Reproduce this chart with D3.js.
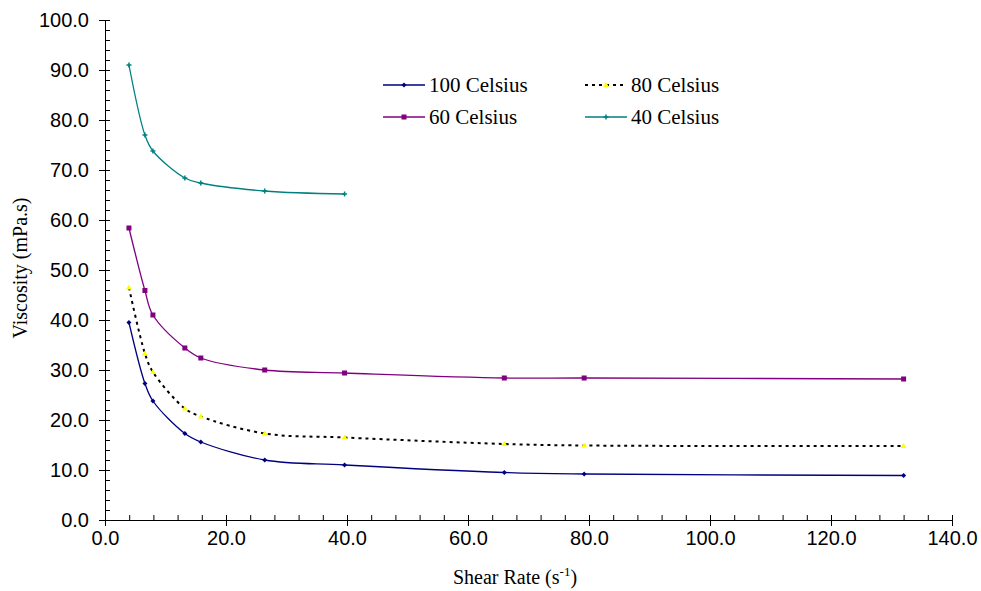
<!DOCTYPE html>
<html>
<head>
<meta charset="utf-8">
<script src="https://cdn.jsdelivr.net/npm/d3@7"></script>
<style>
  body { margin: 0; background: #fff; }
</style>
</head>
<body>
<svg width="981" height="591"></svg>
<script>
// shear rates (1/s)
const shearRate = [3.96, 6.6, 7.92, 13.2, 15.84, 26.4, 39.6, 66, 79.2, 132];

const visc100 = [39.5, 27.3, 23.8, 17.3, 15.6, 12.0, 11.0, 9.5, 9.2, 8.9];
const visc80 = [46.5, 33.3, 29.6, 22.3, 20.7, 17.3, 16.5, 15.2, 14.9, 14.8];
const visc60 = [58.4, 45.9, 41.0, 34.4, 32.4, 30.0, 29.4, 28.4, 28.4, 28.2];
const visc40 = [91.0, 77.0, 73.8, 68.4, 67.4, 65.8, 65.2];

const xTicks = [0, 20, 40, 60, 80, 100, 120, 140];
const yTicks = [0, 10, 20, 30, 40, 50, 60, 70, 80, 90, 100];

const series = [
  {name: '100 Celsius', values: visc100, color: '#000080', dash: null, marker: 'diamond'},
  {name: '80 Celsius', values: visc80, color: '#000000', dash: '3,4', marker: 'triangle'},
  {name: '60 Celsius', values: visc60, color: '#800080', dash: null, marker: 'square'},
  {name: '40 Celsius', values: visc40, color: '#008080', dash: null, marker: 'plus'}
];

const sans = '"Liberation Sans", Arial, sans-serif';
const serif = '"Liberation Serif", "Times New Roman", Times, serif';

var svg = d3.select('svg');

var x = d3.scaleLinear().domain([0, 140]).range([105, 952]);
var y = d3.scaleLinear().domain([0, 100]).range([520, 20]);

// minor ticks (inside)
svg.append('g')
  .attr('transform', 'translate(0,520)')
  .call(d3.axisTop(x).tickValues(d3.range(0, 141, 4)).tickSize(5).tickFormat(''))
  .call(g => g.select('.domain').remove());
svg.append('g')
  .attr('transform', 'translate(105,0)')
  .call(d3.axisRight(y).tickValues(d3.range(0, 101, 2)).tickSize(5).tickFormat(''))
  .call(g => g.select('.domain').remove());

// major axes
var xAxis = svg.append('g')
  .attr('transform', 'translate(0,520)')
  .call(d3.axisBottom(x).tickValues(xTicks).tickSize(6).tickSizeOuter(0).tickPadding(5).tickFormat(d3.format('.1f')));
var yAxis = svg.append('g')
  .attr('transform', 'translate(105,0)')
  .call(d3.axisLeft(y).tickValues(yTicks).tickSize(6).tickSizeOuter(0).tickPadding(10).tickFormat(d3.format('.1f')));

[xAxis, yAxis].forEach(a => a.selectAll('text')
  .attr('font-family', sans).attr('font-size', 20).attr('fill', '#000'));

svg.append('text')
  .attr('x', 515).attr('y', 584).attr('text-anchor', 'middle')
  .attr('font-family', serif).attr('font-size', 20)
  .html('Shear Rate (s<tspan dy="-8" font-size="13">-1</tspan><tspan dy="8">)</tspan>');

svg.append('text')
  .attr('transform', 'translate(27,268) rotate(-90)')
  .attr('text-anchor', 'middle')
  .attr('font-family', serif).attr('font-size', 20)
  .text('Viscosity (mPa.s)');

var line = d3.line()
  .x((d, i) => x(shearRate[i]))
  .y(d => y(d))
  .curve(d3.curveCatmullRom.alpha(0.5));

function drawMarker(g, type, cx, cy) {
  if (type === 'diamond') {
    g.append('path').attr('d', `M${cx},${cy - 2.5}L${cx + 2.5},${cy}L${cx},${cy + 2.5}L${cx - 2.5},${cy}Z`).attr('fill', '#000080');
  } else if (type === 'triangle') {
    g.append('path').attr('d', `M${cx},${cy - 3}L${cx + 3},${cy + 2}L${cx - 3},${cy + 2}Z`).attr('fill', '#ffff00');
  } else if (type === 'square') {
    g.append('rect').attr('x', cx - 2.5).attr('y', cy - 2.5).attr('width', 5).attr('height', 5).attr('fill', '#800080');
  } else {
    g.append('path').attr('d', `M${cx - 2.5},${cy}H${cx + 2.5}M${cx},${cy - 2.5}V${cy + 2.5}`).attr('stroke', '#008080').attr('stroke-width', 1.5);
  }
}

series.forEach(s => {
  var g = svg.append('g');
  g.append('path')
    .attr('d', line(s.values))
    .attr('fill', 'none')
    .attr('stroke', s.color)
    .attr('stroke-width', s.dash ? 2 : 1.3)
    .attr('stroke-dasharray', s.dash);
  s.values.forEach((v, i) => drawMarker(g, s.marker, x(shearRate[i]), y(v)));
});

// legend
var legendPos = [[383, 85], [585, 85], [383, 117], [585, 117]];
var legend = svg.append('g');
series.forEach((s, i) => {
  var [lx, ly] = legendPos[i];
  legend.append('line')
    .attr('x1', lx).attr('x2', lx + 42).attr('y1', ly).attr('y2', ly)
    .attr('stroke', s.color).attr('stroke-width', s.dash ? 2 : 1.3)
    .attr('stroke-dasharray', s.dash);
  drawMarker(legend, s.marker, lx + 21, ly);
  legend.append('text')
    .attr('x', lx + 46).attr('y', ly + 7)
    .attr('font-family', serif).attr('font-size', 21)
    .text(s.name);
});
</script>
</body>
</html>
